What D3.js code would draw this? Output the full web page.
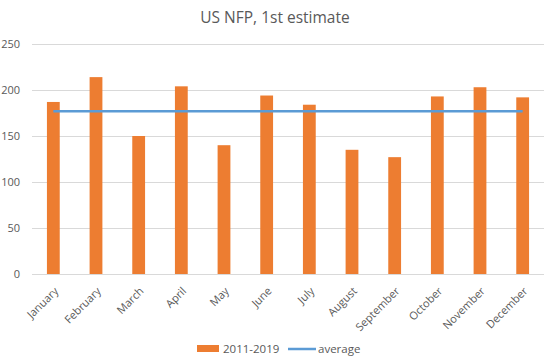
<!DOCTYPE html>
<html>
<head>
<meta charset="utf-8">
<script src="https://cdn.jsdelivr.net/npm/d3@7"></script>
<style>
  body { margin: 0; background: #fff; }
  text { font-family: "Open Sans", "Liberation Sans", sans-serif; fill: #595959; }
</style>
</head>
<body>
<div id="chart"></div>
<script>
var months = ["January", "February", "March", "April", "May", "June", "July",
              "August", "September", "October", "November", "December"];
var nfpValues = [187, 214, 150, 204, 140, 194, 184, 135, 127, 193, 203, 192];
var averageValues = [177, 177, 177, 177, 177, 177, 177, 177, 177, 177, 177, 177];
var yTicks = [0, 50, 100, 150, 200, 250];

var width = 549, height = 361;
var margin = {top: 44, right: 5, bottom: 87, left: 32};

var svg = d3.select("#chart").append("svg")
    .attr("width", width)
    .attr("height", height);

var x = d3.scaleBand()
    .domain(months)
    .range([margin.left, width - margin.right])
    .paddingInner(0.7)
    .paddingOuter(0.35);

var y = d3.scaleLinear()
    .domain([0, 250])
    .range([height - margin.bottom, margin.top]);

// title
svg.append("text")
    .attr("x", 275)
    .attr("y", 23)
    .attr("text-anchor", "middle")
    .style("font-size", "15.5px")
    .text("US NFP, 1st estimate");

// gridlines
svg.append("g")
  .selectAll("line")
  .data(yTicks)
  .enter().append("line")
    .attr("x1", margin.left)
    .attr("x2", width - margin.right)
    .attr("y1", function(d) { return y(d) + 0.5; })
    .attr("y2", function(d) { return y(d) + 0.5; })
    .attr("stroke", "#d9d9d9")
    .attr("stroke-width", 1);

// y axis labels
svg.append("g")
  .selectAll("text")
  .data(yTicks)
  .enter().append("text")
    .attr("x", 20)
    .attr("y", function(d) { return y(d) + 4; })
    .attr("text-anchor", "end")
    .style("font-size", "11px")
    .text(function(d) { return d; });

// bars
svg.append("g")
  .selectAll("rect")
  .data(nfpValues)
  .enter().append("rect")
    .attr("x", function(d, i) { return x(months[i]); })
    .attr("y", function(d) { return y(d); })
    .attr("width", x.bandwidth())
    .attr("height", function(d) { return y(0) - y(d); })
    .attr("fill", "#ed7d31");

// average line
var line = d3.line()
    .x(function(d, i) { return x(months[i]) + x.bandwidth() / 2; })
    .y(function(d) { return y(d); });

svg.append("path")
    .datum(averageValues)
    .attr("d", line)
    .attr("fill", "none")
    .attr("stroke", "#5b9bd5")
    .attr("stroke-width", 2.5);

// x labels, rotated
svg.append("g")
  .selectAll("text")
  .data(months)
  .enter().append("text")
    .attr("transform", function(d) {
      return "translate(" + (x(d) + x.bandwidth() / 2 + 3) + "," + (y(0) + 15) + ") rotate(-45)";
    })
    .attr("text-anchor", "end")
    .attr("dy", "0.35em")
    .style("font-size", "11px")
    .text(function(d) { return d; });

// legend
var legend = svg.append("g").attr("transform", "translate(0,349)");
legend.append("rect")
    .attr("x", 197).attr("y", -4)
    .attr("width", 22).attr("height", 7)
    .attr("fill", "#ed7d31");
legend.append("text")
    .attr("x", 223).attr("y", 4)
    .style("font-size", "11.5px")
    .text("2011-2019");
legend.append("line")
    .attr("x1", 288).attr("x2", 316)
    .attr("y1", 0).attr("y2", 0)
    .attr("stroke", "#5b9bd5")
    .attr("stroke-width", 2.5);
legend.append("text")
    .attr("x", 318).attr("y", 4)
    .style("font-size", "11.5px")
    .text("average");
</script>
</body>
</html>
